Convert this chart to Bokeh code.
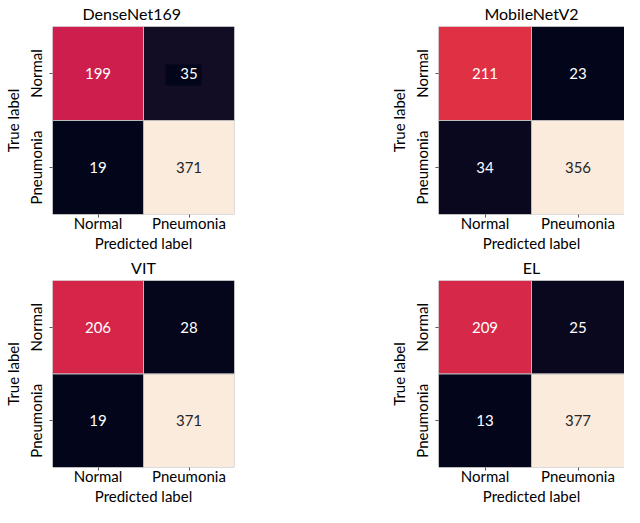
import numpy as np
from bokeh.plotting import figure
from bokeh.models import ColumnDataSource, LinearColorMapper, FactorRange
from bokeh.transform import transform, dodge
from bokeh.layouts import column, row
from bokeh.core.properties import value
from bokeh.embed import file_html
from bokeh.resources import INLINE

# ---------------- data ----------------
classes = ["Normal", "Pneumonia"]
models = ["DenseNet169", "MobileNetV2", "VIT", "EL"]
densenet169 = [[199, 35], [19, 371]]   # rows: true label, cols: predicted label
mobilenetv2 = [[211, 23], [34, 356]]
vit = [[206, 28], [19, 371]]
el = [[209, 25], [13, 377]]
matrices = [densenet169, mobilenetv2, vit, el]
# cell that shows a dark box behind its number in the original picture
boxed_cells = [("DenseNet169", "Normal", "Pneumonia")]  # (model, true, predicted)

# ---------------- rocket colormap ----------------
rocket_stops = [0, 0.025, 0.033, 0.045, 1/7, 2/7, 3/7, 0.5, 4/7, 5/7, 6/7, 1]
rocket_hex = ["#03051A", "#05061B", "#0A0920", "#140E25", "#35193E", "#701F57",
              "#AD1759", "#CB1B4F", "#E13342", "#F37651", "#F6B48F", "#FAEBDD"]
rgb = np.array([[int(h[i:i + 2], 16) for i in (1, 3, 5)] for h in rocket_hex], float)
ts = np.linspace(0, 1, 256)
palette = []
for t in ts:
    c = [np.interp(t, rocket_stops, rgb[:, k]) for k in range(3)]
    palette.append("#%02x%02x%02x" % tuple(int(round(v)) for v in c))

FONT = "Lato"


def make_panel(name, mat, left_col, top_row):
    vals = np.array(mat)
    lo, hi = vals.min(), vals.max()
    xs, ys, v, lab, tcol = [], [], [], [], []
    bx, by = [], []
    for i, t in enumerate(classes):
        for j, pr in enumerate(classes):
            xs.append(pr)
            ys.append(t)
            v.append(int(vals[i, j]))
            lab.append(str(vals[i, j]))
            frac = (vals[i, j] - lo) / (hi - lo)
            tcol.append("#262626" if frac > 0.6 else "#FFFFFF")
            if (name, t, pr) in boxed_cells:
                bx.append(pr)
                by.append(t)
    src = ColumnDataSource(dict(x=xs, y=ys, v=v, label=lab, tcol=tcol))
    box_src = ColumnDataSource(dict(x=bx, y=by))
    mapper = LinearColorMapper(palette=palette, low=lo, high=hi)

    p = figure(
        x_range=FactorRange(*classes),
        y_range=FactorRange(*classes[::-1]),
        width=312,
        height=254 if top_row else 253,
        min_border_left=48 if left_col else 126,
        min_border_right=78 if left_col else 0,
        min_border_top=26,
        min_border_bottom=30,
        output_backend="svg", toolbar_location=None, tools="",
        title=name,
    )
    p.rect(x="x", y="y", width=1, height=1, source=src,
           fill_color=transform("v", mapper),
           line_color="#BBBBBB", line_width=1)
    p.rect(x=dodge("x", -0.06, range=p.x_range), y=dodge("y", -0.016, range=p.y_range),
           width=36, height=21, width_units="screen", height_units="screen",
           source=box_src, fill_color="#03051A", line_color=None)
    p.text(x="x", y="y", text="label", source=src,
           text_align="center", text_baseline="middle",
           text_color="tcol", text_font=value(FONT), text_font_size="15px")

    p.title.text_font = FONT
    p.title.text_font_size = "16px"
    p.title.text_font_style = "normal"
    p.title.text_color = "black"
    p.title.standoff = 4
    p.title.vertical_align = "top"
    if name == "DenseNet169":
        p.title.align = "left"
        p.title.offset = 30
    else:
        p.title.align = "center"

    p.xaxis.axis_label = "Predicted label"
    p.yaxis.axis_label = "True label"
    for ax in (p.xaxis, p.yaxis):
        ax.axis_label_text_font = FONT
        ax.axis_label_text_font_size = "15px"
        ax.axis_label_text_font_style = "normal"
        ax.axis_label_text_color = "black"
        ax.major_label_text_font = FONT
        ax.major_label_text_font_size = "15px"
        ax.major_label_text_color = "black"
        ax.axis_line_color = None
        ax.major_tick_in = 0
        ax.major_tick_out = 3
        ax.major_tick_line_color = "#555555"
    p.xaxis.major_label_standoff = -4
    p.xaxis.axis_label_standoff = -1
    p.yaxis.major_label_standoff = 5
    p.yaxis.axis_label_standoff = 2
    p.yaxis.major_label_orientation = "vertical"
    p.xgrid.grid_line_color = None
    p.ygrid.grid_line_color = None
    p.outline_line_color = None
    return p


panels = []
for k, (name, mat) in enumerate(zip(models, matrices)):
    panels.append(make_panel(name, mat, left_col=(k % 2 == 0), top_row=(k < 2)))

layout = column(row(panels[0], panels[1]), row(panels[2], panels[3]))

open("out.html", "w").write(file_html(layout, INLINE))
